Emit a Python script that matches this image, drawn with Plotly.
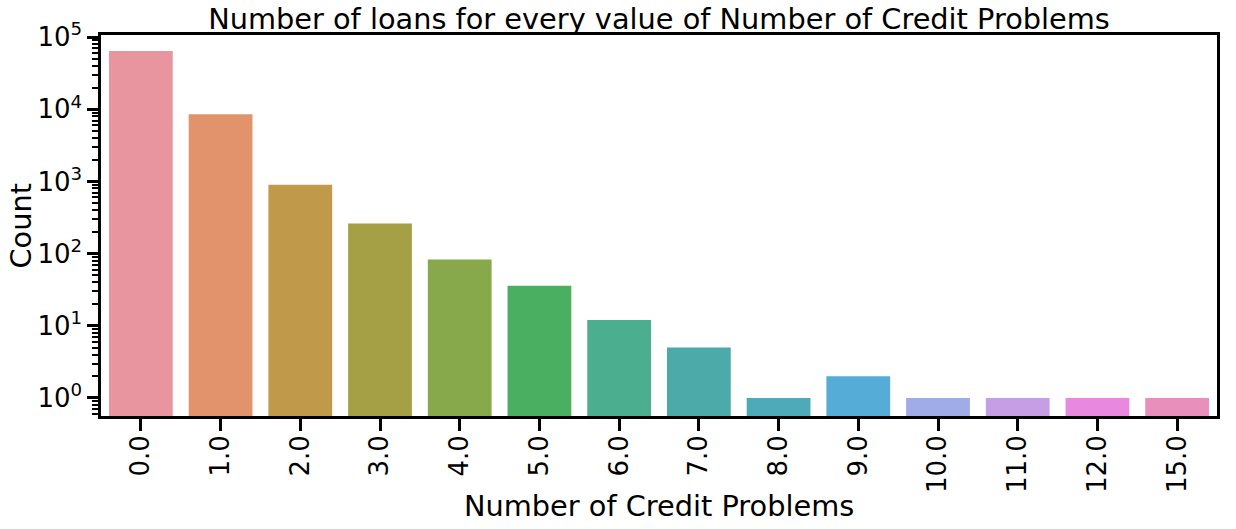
import plotly.graph_objects as go

categories = ["0.0", "1.0", "2.0", "3.0", "4.0", "5.0", "6.0", "7.0",
              "8.0", "9.0", "10.0", "11.0", "12.0", "15.0"]
counts = [64400, 8520, 900, 261, 83, 36, 12, 5, 1, 2, 1, 1, 1, 1]
colors = ["#E8959F", "#E2936B", "#C0994B", "#A5A046", "#87A84B", "#4BAF61",
          "#4BAE8E", "#4CAAA8", "#4EA9B8", "#55ACD6", "#A0ACE8", "#C69EE6",
          "#E889DF", "#E88FBC"]
y_tick_vals = [1, 10, 100, 1000, 10000, 100000]
y_tick_text = ["10<sup>0</sup>", "10<sup>1</sup>", "10<sup>2</sup>",
               "10<sup>3</sup>", "10<sup>4</sup>", "10<sup>5</sup>"]

minor_vals = [m * 10 ** d for d in range(-1, 5) for m in range(2, 10)]

W, H = 1236, 529
L, R, T, B = 101, 19, 35, 113
PW, PH = W - L - R, H - T - B

fig = go.Figure(go.Bar(x=categories, y=counts, marker=dict(color=colors, line=dict(width=0)),
                       width=0.8))

font = "DejaVu Sans"
fig.update_layout(
    width=W, height=H,
    margin=dict(l=L, r=R, t=T, b=B),
    plot_bgcolor="white", paper_bgcolor="white",
    font=dict(family=font, color="black", size=26),
    title=dict(text="Number of loans for every value of Number of Credit Problems",
               x=0.5, xref="paper", xanchor="center", y=1 - 19 / H, yanchor="middle",
               font=dict(size=28.8, family=font, color="black")),
    showlegend=False,
    annotations=[
        dict(text="Count", xref="paper", yref="paper", x=-(L - 20) / PW, y=0.5,
             xanchor="center", yanchor="middle", textangle=-90, showarrow=False,
             font=dict(size=28.8, family=font, color="black")),
        dict(text="Number of Credit Problems", xref="paper", yref="paper", x=0.5,
             y=-(506 - (T + PH)) / PH, xanchor="center", yanchor="middle", showarrow=False,
             font=dict(size=28.8, family=font, color="black")),
    ],
)
fig.update_xaxes(
    type="category", tickangle=-90, automargin=False,
    showline=True, linecolor="black", linewidth=2.5, mirror=True,
    ticks="outside", ticklen=12, tickwidth=2.5, tickcolor="black",
    ticklabelstandoff=-6,
    tickfont=dict(size=26, family=font, color="black"),
    range=[-0.5, 13.5], showgrid=False,
)
fig.update_yaxes(
    type="log", range=[-0.25, 5.03], tickmode="array",
    tickvals=y_tick_vals, ticktext=y_tick_text, automargin=False,
    showline=True, linecolor="black", linewidth=2.5, mirror=True,
    ticks="outside", ticklen=11, tickwidth=2.5, tickcolor="black",
    tickfont=dict(size=26, family=font, color="black"),
    minor=dict(tickvals=minor_vals, ticks="outside", ticklen=6, tickwidth=1.8,
               tickcolor="black", showgrid=False),
    showgrid=False, zeroline=False,
)

fig.write_html("out.html", config={"displayModeBar": False},
               post_script="document.body.style.margin='0px';")
